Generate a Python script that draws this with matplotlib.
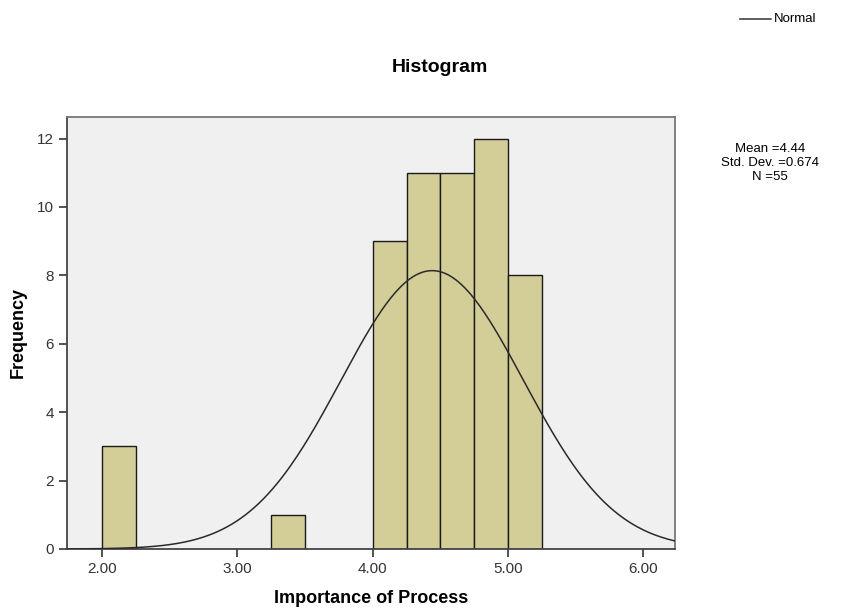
import matplotlib
matplotlib.use("Agg")
import matplotlib.pyplot as plt
import numpy as np

# histogram bins (left edges) and counts
bin_left = [2.00, 3.25, 4.00, 4.25, 4.50, 4.75, 5.00]
counts = [3, 1, 9, 11, 11, 12, 8]
bin_width = 0.25
mean = 4.44
std = 0.674
n = 55
xticks = [2.0, 3.0, 4.0, 5.0, 6.0]
yticks = [0, 2, 4, 6, 8, 10, 12]

plt.rcParams['font.family'] = ['Liberation Sans', 'DejaVu Sans']

fig = plt.figure(figsize=(8.45, 6.08), dpi=100)
ax = fig.add_axes([67/845, 1 - 549/608, (675-67)/845, (549-117)/608])
ax.set_facecolor('#f0f0f0')

ax.bar(bin_left, counts, width=bin_width, align='edge',
       color='#d3ce98', edgecolor='#1a1a1a', linewidth=1.0, zorder=2)

# normal curve scaled to counts
xs = np.linspace(1.74, 6.235, 400)
ys = n * bin_width / (std * np.sqrt(2*np.pi)) * np.exp(-0.5*((xs-mean)/std)**2)
ax.plot(xs, ys, color='#2a2a2a', linewidth=1.1, zorder=3)

ax.set_xlim(1.74, 6.235)
ax.set_ylim(0, 12.63)
ax.set_xticks(xticks)
ax.set_xticklabels(['%.2f' % t for t in xticks])
ax.set_yticks(yticks)
ax.tick_params(direction='out', length=6, width=1.2, labelsize=11, colors='#333333')
for s in ['left', 'bottom']:
    ax.spines[s].set_color('#444444')
    ax.spines[s].set_linewidth(1.3)
for s in ['top', 'right']:
    ax.spines[s].set_color('#777777')
    ax.spines[s].set_linewidth(1.3)

ax.set_xlabel('Importance of Process', fontsize=13, fontweight='bold', labelpad=10)
ax.set_ylabel('Frequency', fontsize=13, fontweight='bold', labelpad=7)

fig.text(440/845, 1 - 68/608, 'Histogram', ha='center', va='center',
         fontsize=14, fontweight='bold')

# legend for normal curve
fig.lines.append(plt.Line2D([740/845, 771/845], [1 - 19/608, 1 - 19/608],
                            color='#333333', linewidth=1.1, transform=fig.transFigure))
fig.text(774/845, 1 - 19/608, 'Normal', ha='left', va='center', fontsize=9.5)

fig.text(770/845, 1 - 163/608,
         'Mean =%.2f\nStd. Dev. =%.3f\nN =%d' % (mean, std, n),
         ha='center', va='center', fontsize=9.5, linespacing=1.25)

fig.savefig('out.png', dpi=100)
